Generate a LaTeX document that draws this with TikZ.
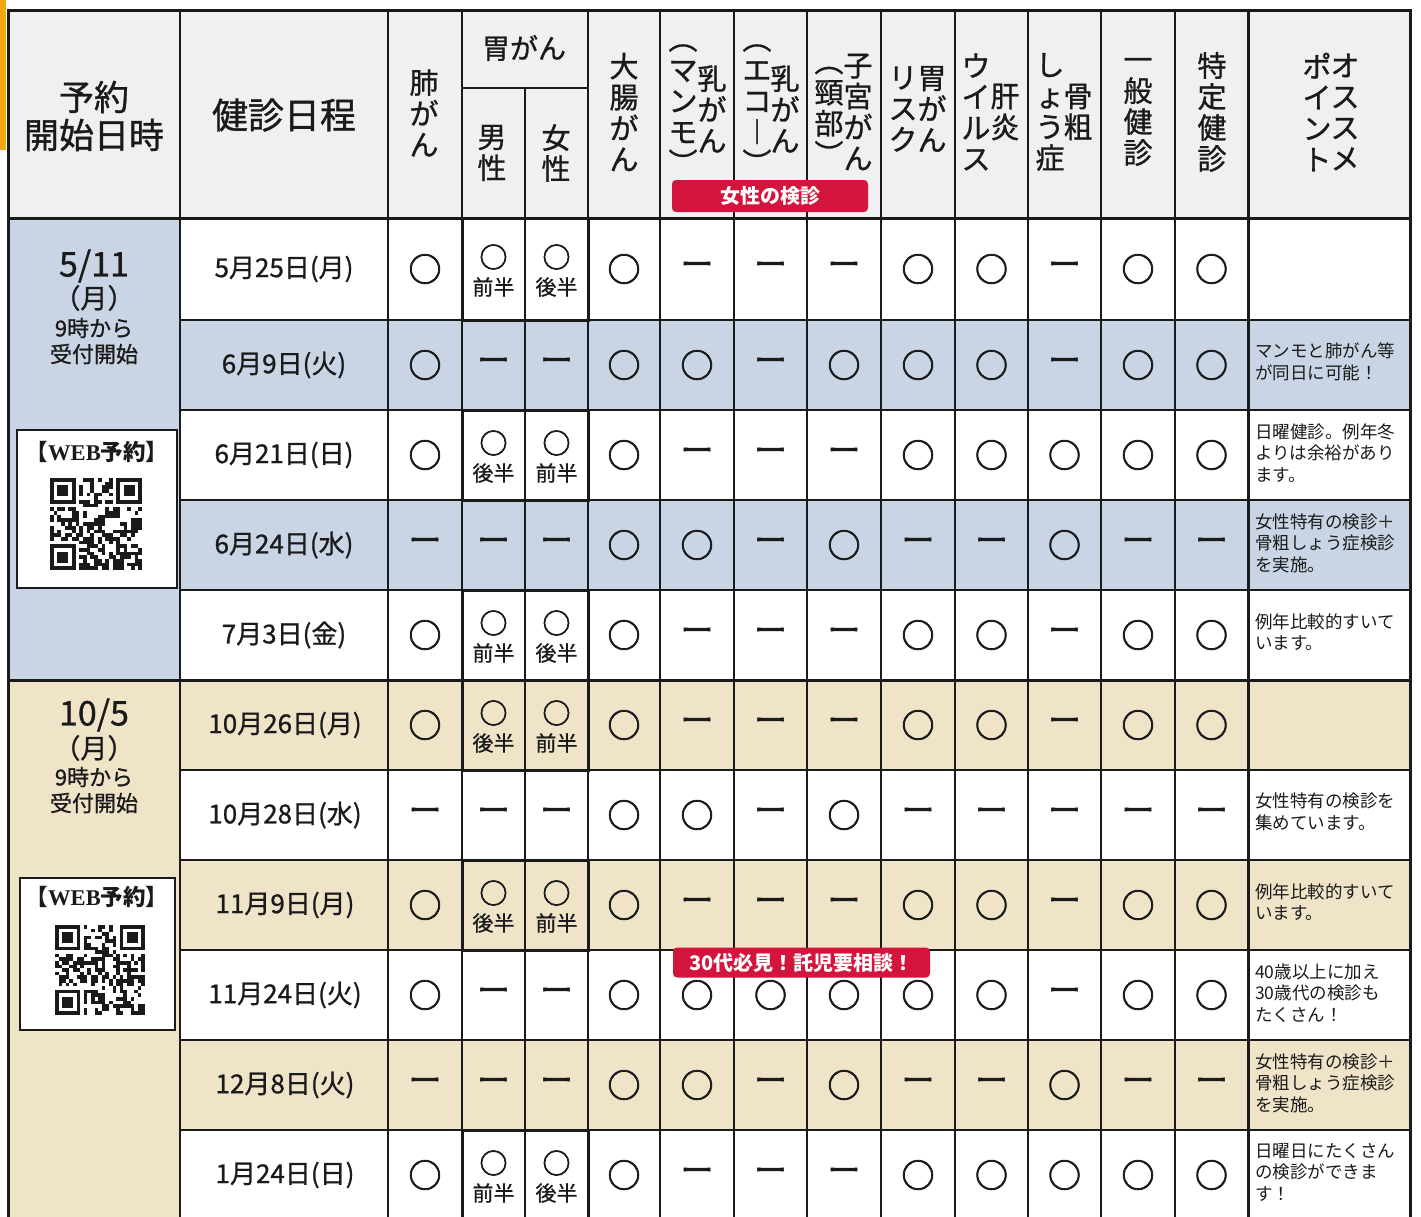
\documentclass[tikz,border=0pt]{standalone}
\usepackage{fontspec}
\setmainfont{Noto Sans CJK JP}
\newfontfamily\webserif{Liberation Serif}
\newfontfamily\markfont[FakeBold=2.4]{Noto Sans CJK JP}
\newfontfamily\dashfont[FakeBold=1.6]{Noto Sans CJK JP}
\newfontfamily\medfont[FakeBold=0.9]{Noto Sans CJK JP}
\definecolor{hdrbg}{HTML}{EEF0F2}
\definecolor{bluebg}{HTML}{C9D5E4}
\definecolor{tanbg}{HTML}{EFE4C8}
\definecolor{redc}{HTML}{D3143C}
\definecolor{orangebar}{HTML}{F2A712}
\definecolor{ink}{HTML}{1A1A1A}
\tikzset{
  thinl/.style={line width=1.8pt, draw=ink},
  thickl/.style={line width=3pt, draw=ink},
  vh/.style={font=\medfont\fontsize{29}{31}\selectfont, align=center, inner sep=0pt, text=ink},
  bigo/.style={font=\markfont\fontsize{33}{33}\selectfont, inner sep=0pt, text=ink},
  smallo/.style={font=\markfont\fontsize{28}{28}\selectfont, inner sep=0pt, text=ink},
  half/.style={font=\medfont\fontsize{21}{21}\selectfont, inner sep=0pt, text=ink},
  dashm/.style={font=\dashfont\fontsize{33}{33}\selectfont, inner sep=0pt, text=ink},
  datef/.style={font=\medfont\fontsize{26}{26}\selectfont, inner sep=0pt, text=ink},
  notef/.style={font=\fontsize{17.5}{21.5}\selectfont, align=left, inner sep=0pt, anchor=west, text=ink},
  redlbl/.style={fill=redc, rounded corners=4pt, text=white, inner sep=0pt, font=\bfseries\fontsize{20}{20}\selectfont},
  qrbox/.style={draw=ink, line width=1.5pt, fill=white},
  lefttx/.style={font=\medfont\fontsize{#1}{#1}\selectfont, inner sep=0pt, text=ink},
  webtx/.style={font=\bfseries\fontsize{22.5}{22.5}\selectfont, inner sep=0pt, text=ink},
}
\def\colx{{425,493.5,556.5,624,697,770.5,844,918,991.5,1064.5,1138,1211.5}}
\newcommand\mkO[3]{\node[bigo] (#3) at (#1,#2) {○};}
\newcommand\mkD[3]{\node[dashm] (#3) at (#1,#2) {ー};}
\newcommand\mkA[3]{\node[smallo] (#3) at (#1,#2-12) {○};\node[half] (#3l) at (#1,#2+18) {前半};}
\newcommand\mkB[3]{\node[smallo] (#3) at (#1,#2-12) {○};\node[half] (#3l) at (#1,#2+18) {後半};}
\newcommand\putmarks[2]{%
  \foreach \cd [count=\k] in {#2} {%
    \pgfmathsetmacro\xx{\colx[\k-1]}%
    \csname mk\cd\endcsname{\xx}{#1}{m#1-\k}%
  }}
\newcommand\qrcode[4]{% x y module seed
  \pgfmathsetseed{#4}%
  \foreach \i in {0,...,24}{\foreach \j in {0,...,24}{%
    \pgfmathtruncatemacro\qin{((\i<8 && \j<8) || (\i>16 && \j<8) || (\i<8 && \j>16)) ? 1 : 0}%
    \ifnum\qin=0
      \pgfmathrandominteger{\rr}{0}{1}%
      \ifnum\rr=1 \fill[ink] (#1+\i*#3,#2+\j*#3) rectangle ++(#3,#3);\fi
    \fi
  }}%
  \foreach \fx/\fy in {0/0,18/0,0/18}{%
    \fill[ink] (#1+\fx*#3,#2+\fy*#3) rectangle ++(7*#3,7*#3);
    \fill[white] (#1+\fx*#3+#3,#2+\fy*#3+#3) rectangle ++(5*#3,5*#3);
    \fill[ink] (#1+\fx*#3+2*#3,#2+\fy*#3+2*#3) rectangle ++(3*#3,3*#3);
  }}
\begin{document}
\begin{tikzpicture}[x=1pt,y=-1pt]
\useasboundingbox (0,0) rectangle (1421,1216);
\clip (0,0) rectangle (1421,1216);
\fill[white] (0,0) rectangle (1421,1216);
\fill[orangebar] (0,0) rectangle (6,150);
% backgrounds
\fill[hdrbg] (8,10) rectangle (1410,218);
\fill[bluebg] (8,218) rectangle (180,680);
\fill[bluebg] (180,320) rectangle (1410,410);
\fill[bluebg] (180,500) rectangle (1410,590);
\fill[tanbg] (8,680) rectangle (180,1220);
\fill[tanbg] (180,680) rectangle (1410,770);
\fill[tanbg] (180,860) rectangle (1410,950);
\fill[tanbg] (180,1040) rectangle (1410,1130);
% grid lines
\foreach \vx in {180,388,462,660,734,807,881,955,1028,1101,1175}
  \draw[thinl] (\vx,10) -- (\vx,1220);
\draw[thinl] (525,88) -- (525,1220);
\draw[line width=2.6pt, draw=ink] (588,10) -- (588,1220);
\draw[thickl] (1248,10) -- (1248,1220);
\foreach \hy in {320,410,500,590,770,860,950,1040,1130}
  \draw[thinl] (180,\hy) -- (1410,\hy);
\draw[thinl] (462,88) -- (588,88);
\draw[thickl] (8,218) -- (1410,218);
\draw[thickl] (8,680) -- (1410,680);
\draw[thickl] (8,10) rectangle (1410,1220);
% boxed stomach pairs
\foreach \ta/\tb in {218/320,410/500,590/680,680/770,860/950,1130/1220}{
  \draw[thickl] (462,\ta) rectangle (588,\tb);
  \draw[line width=2.4pt, draw=ink] (525,\ta) -- (525,\tb);
}
% header texts
\node[font=\medfont\fontsize{35}{38}\selectfont, align=center, inner sep=0pt, text=ink] (h0) at (94,116) {予約\\開始日時};
\node[font=\medfont\fontsize{36}{36}\selectfont, inner sep=0pt, text=ink] (h1) at (284,115) {健診日程};
\node[vh] (h2) at (424,113) {肺\\が\\ん};
\node[font=\medfont\fontsize{28}{28}\selectfont, inner sep=0pt, text=ink] (h3) at (524,48) {胃がん};
\node[vh] (h3a) at (492,153) {男\\性};
\node[vh] (h3b) at (556,153) {女\\性};
\node[vh] (h5) at (624,112) {大\\腸\\が\\ん};
\node[vh] (h6r) at (712,109) {乳\\が\\ん};
\node[vh] (h6l) at (683,109) {︵\\マ\\ン\\モ\\︶};
\node[vh] (h7r) at (785,109) {乳\\が\\ん};
\node[vh] (h7l) at (757,109) {︵\\エ\\コ\\︱\\︶};
\node[vh] (h8r) at (858,112) {子\\宮\\が\\ん};
\node[vh] (h8l) at (829,116) {︵\\頸\\部\\︶};
\node[vh] (h9r) at (932,109) {胃\\が\\ん};
\node[vh] (h9l) at (903,109) {リ\\ス\\ク};
\node[vh] (h10r) at (1005,112) {肝\\炎};
\node[vh] (h10l) at (976,112) {ウ\\イ\\ル\\ス};
\node[vh] (h11r) at (1078,112) {骨\\粗};
\node[vh] (h11l) at (1050,112) {し\\ょ\\う\\症};
\node[vh] (h12) at (1138,112) {一\\般\\健\\診};
\node[vh] (h13) at (1212,112) {特\\定\\健\\診};
\node[vh] (h14r) at (1345,112) {オ\\ス\\ス\\メ};
\node[vh] (h14l) at (1317,112) {ポ\\イ\\ン\\ト};
% left column block 1
\node[lefttx=34] (s1a) at (94,266) {5/11};
\node[lefttx=27] (s1b) at (94,298) {（月）};
\node[lefttx=22] (s1c) at (94,328) {9時から};
\node[lefttx=22] (s1d) at (94,354) {受付開始};
\draw[qrbox] (17,430) rectangle (177,588);
\node[webtx] (w1) at (97,452) {【{\webserif\bfseries WEB}予約】};
\qrcode{50}{478}{3.68}{7}
% left column block 2
\node[lefttx=34] (s2a) at (94,715) {10/5};
\node[lefttx=27] (s2b) at (94,748) {（月）};
\node[lefttx=22] (s2c) at (94,777) {9時から};
\node[lefttx=22] (s2d) at (94,803) {受付開始};
\draw[qrbox] (20,878) rectangle (175,1030);
\node[webtx] (w2) at (97,897) {【{\webserif\bfseries WEB}予約】};
\qrcode{55}{925}{3.6}{23}
% dates
\node[datef] (d1) at (284,269) {5月25日(月)};
\node[datef] (d2) at (284,365) {6月9日(火)};
\node[datef] (d3) at (284,455) {6月21日(日)};
\node[datef] (d4) at (284,545) {6月24日(水)};
\node[datef] (d5) at (284,635) {7月3日(金)};
\node[datef] (d6) at (285,725) {10月26日(月)};
\node[datef] (d7) at (285,815) {10月28日(水)};
\node[datef] (d8) at (285,905) {11月9日(月)};
\node[datef] (d9) at (285,995) {11月24日(火)};
\node[datef] (d10) at (285,1085) {12月8日(火)};
\node[datef] (d11) at (285,1175) {1月24日(日)};
% marks
\putmarks{269}{O,A,B,O,D,D,D,O,O,D,O,O}
\putmarks{365}{O,D,D,O,O,D,O,O,O,D,O,O}
\putmarks{455}{O,B,A,O,D,D,D,O,O,O,O,O}
\putmarks{545}{D,D,D,O,O,D,O,D,D,O,D,D}
\putmarks{635}{O,A,B,O,D,D,D,O,O,D,O,O}
\putmarks{725}{O,B,A,O,D,D,D,O,O,D,O,O}
\putmarks{815}{D,D,D,O,O,D,O,D,D,D,D,D}
\putmarks{905}{O,B,A,O,D,D,D,O,O,D,O,O}
\putmarks{995}{O,D,D,O,O,O,O,O,O,D,O,O}
\putmarks{1085}{D,D,D,O,O,D,O,D,D,O,D,D}
\putmarks{1175}{O,A,B,O,D,D,D,O,O,O,O,O}
% notes
\node[notef] (n2) at (1255,362) {マンモと肺がん等\\が同日に可能！};
\node[notef] (n3) at (1255,453) {日曜健診。例年冬\\よりは余裕があり\\ます。};
\node[notef] (n4) at (1255,543) {女性特有の検診＋\\骨粗しょう症検診\\を実施。};
\node[notef] (n5) at (1255,632) {例年比較的すいて\\います。};
\node[notef] (n7) at (1255,812) {女性特有の検診を\\集めています。};
\node[notef] (n8) at (1255,902) {例年比較的すいて\\います。};
\node[notef] (n9) at (1255,993) {40歳以上に加え\\30歳代の検診も\\たくさん！};
\node[notef] (n10) at (1255,1083) {女性特有の検診＋\\骨粗しょう症検診\\を実施。};
\node[notef] (n11) at (1255,1172) {日曜日にたくさん\\の検診ができま\\す！};
% red labels
\node[redlbl, minimum width=196pt, minimum height=32pt] (lbl1) at (770,196) {女性の検診};
\node[redlbl, minimum width=257pt, minimum height=30pt] (lbl2) at (801.5,962.5) {30代必見！託児要相談！};
\end{tikzpicture}
\end{document}
